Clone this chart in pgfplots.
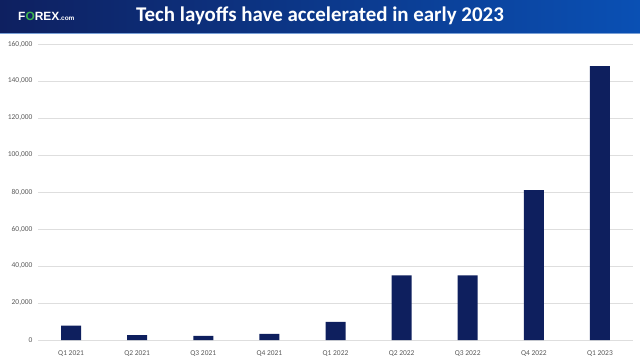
\documentclass[border=0pt]{standalone}
\usepackage{fontspec}
\setmainfont{Carlito}
\newfontfamily\logofont{Liberation Sans}
\usepackage{pgfplots}
\pgfplotsset{compat=1.18}
\definecolor{barblue}{RGB}{14,31,94}
\definecolor{hdrL}{RGB}{14,32,96}
\definecolor{hdrR}{RGB}{10,80,180}
\definecolor{gridc}{RGB}{222,222,222}
\definecolor{tickc}{RGB}{89,89,89}
\definecolor{fxgreen}{RGB}{60,180,80}
\begin{document}
\begin{tikzpicture}
\begin{axis}[
  scale only axis,
  width=595bp, height=296bp,
  xmin=-0.5, xmax=8.5, ymin=0, ymax=160000,
  ytick={0,20000,40000,60000,80000,100000,120000,140000,160000},
  yticklabels={0,{20,000},{40,000},{60,000},{80,000},{100,000},{120,000},{140,000},{160,000}},
  xtick={0,...,8},
  xticklabels={Q1 2021,Q2 2021,Q3 2021,Q4 2021,Q1 2022,Q2 2022,Q3 2022,Q4 2022,Q1 2023},
  axis line style={draw=none},
  ymajorgrids, grid style={gridc, line width=0.7bp},
  tick style={draw=none},
  scaled y ticks=false,
  ticklabel style={font=\fontsize{7.5}{9}\selectfont, text=tickc},
  xticklabel style={yshift=-2.5bp},
  yticklabel style={xshift=-2bp},
  ybar, bar width=20bp,
]
\addplot[fill=barblue, draw=none] coordinates {
  (0,7800) (1,2700) (2,2200) (3,3300) (4,9800) (5,35000) (6,35000) (7,81000) (8,148000)
};
\coordinate (O) at (rel axis cs:0,0);
\end{axis}
\begin{scope}[shift={(O)}, x=1bp, y=1bp, xshift=-38bp, yshift=-20bp]
\path[use as bounding box] (0,0) rectangle (640,360);
\shade[left color=hdrL, right color=hdrR] (0,327) rectangle (640,360);
\fill[hdrR!55!white] (0,325.8) rectangle (640,327.2);
\node[text=white, font=\bfseries\fontsize{21}{25}\selectfont, anchor=center] at (320,344) {Tech layoffs have accelerated in early 2023};
\node[anchor=west, inner sep=0, text=white, font=\logofont\bfseries\fontsize{12}{13}\selectfont] at (18,343.5) {F{\color{fxgreen}O}REX{\fontsize{6.5}{7}\selectfont.com}};
\end{scope}
\end{tikzpicture}
\end{document}
